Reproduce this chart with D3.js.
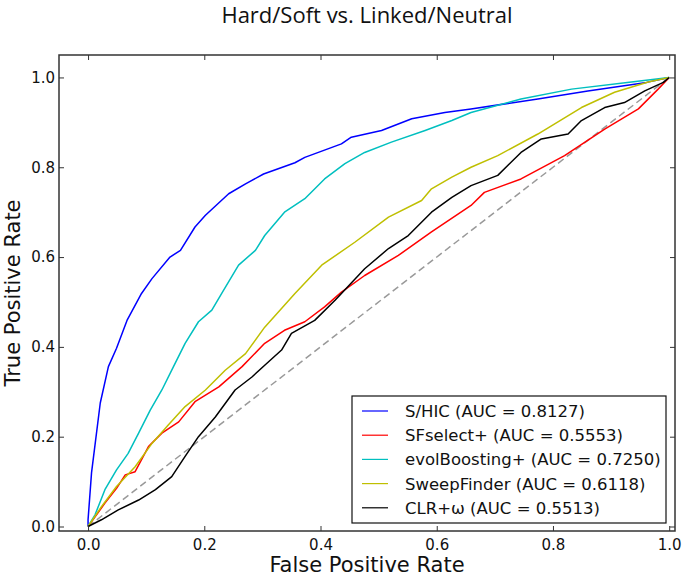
<!DOCTYPE html>
<html>
<head>
  <meta charset="utf-8">
  <title>Hard/Soft vs. Linked/Neutral</title>
  <script src="https://cdn.jsdelivr.net/npm/d3@7"></script>
  <style>
    body { margin: 0; background: #fff; }
    text { font-family: "DejaVu Sans", sans-serif; fill: #111; }
    .title { font-family: "Open Sans", sans-serif; }
  </style>
</head>
<body>
<script>

// ROC curves, [false positive rate, true positive rate]
var shic = [[0,0],[0,0.015],[0.006,0.12],[0.021,0.275],[0.035,0.356],[0.049,0.397],[0.067,0.459],
  [0.092,0.519],[0.110,0.552],[0.141,0.600],[0.159,0.615],[0.184,0.667],[0.202,0.693],[0.242,0.741],
  [0.271,0.763],[0.302,0.785],[0.356,0.810],[0.373,0.822],[0.436,0.852],[0.453,0.867],[0.505,0.882],
  [0.557,0.908],[0.614,0.922],[0.659,0.930],[0.774,0.952],[0.860,0.970],[0.961,0.989],[1,1]];

var sfselect = [[0,0],[0.029,0.052],[0.049,0.085],[0.064,0.115],[0.081,0.122],[0.104,0.178],
  [0.127,0.208],[0.156,0.233],[0.184,0.278],[0.225,0.311],[0.265,0.356],[0.304,0.408],[0.338,0.437],
  [0.373,0.456],[0.407,0.489],[0.436,0.522],[0.476,0.559],[0.534,0.604],[0.591,0.656],[0.659,0.715],
  [0.682,0.744],[0.745,0.774],[0.820,0.826],[0.889,0.885],[0.947,0.930],[0.981,0.974],[1,1]];

var evolBoosting = [[0,0],[0.012,0.026],[0.029,0.082],[0.049,0.126],[0.069,0.163],[0.087,0.208],
  [0.107,0.259],[0.127,0.304],[0.147,0.356],[0.167,0.408],[0.190,0.456],[0.213,0.482],[0.230,0.519],
  [0.259,0.582],[0.288,0.615],[0.304,0.648],[0.338,0.700],[0.373,0.730],[0.407,0.774],[0.442,0.808],
  [0.476,0.833],[0.522,0.856],[0.580,0.882],[0.626,0.904],[0.659,0.922],[0.745,0.952],[0.832,0.974],
  [0.935,0.990],[1,1]];

var sweepFinder = [[0,0],[0.023,0.044],[0.049,0.089],[0.081,0.133],[0.110,0.185],[0.138,0.226],
  [0.167,0.267],[0.202,0.304],[0.236,0.348],[0.271,0.385],[0.304,0.444],[0.356,0.519],[0.402,0.582],
  [0.459,0.633],[0.517,0.689],[0.574,0.726],[0.591,0.752],[0.626,0.778],[0.659,0.800],[0.705,0.826],
  [0.774,0.874],[0.849,0.933],[0.906,0.967],[0.964,0.990],[1,1]];

var clr = [[0,0],[0.023,0.015],[0.052,0.037],[0.087,0.059],[0.116,0.082],[0.144,0.111],[0.167,0.156],
  [0.190,0.200],[0.219,0.244],[0.253,0.304],[0.282,0.333],[0.304,0.359],[0.333,0.393],[0.350,0.430],
  [0.390,0.459],[0.425,0.504],[0.436,0.519],[0.476,0.574],[0.517,0.619],[0.551,0.648],[0.591,0.700],
  [0.626,0.733],[0.659,0.759],[0.705,0.782],[0.745,0.833],[0.780,0.863],[0.826,0.874],[0.849,0.904],
  [0.889,0.933],[0.923,0.944],[0.958,0.970],[0.990,0.989],[1,1]];

var seriesNames = ["S/HIC (AUC = 0.8127)", "SFselect+ (AUC = 0.5553)", "evolBoosting+ (AUC = 0.7250)",
  "SweepFinder (AUC = 0.6118)", "CLR+\u03c9 (AUC = 0.5513)"];
var seriesColors = ["#0000ff", "#ff0000", "#00bfbf", "#bfbf00", "#000000"];
var seriesData = [shic, sfselect, evolBoosting, sweepFinder, clr];

var tickValues = [0, 0.2, 0.4, 0.6, 0.8, 1.0];

var width = 684, height = 578;
// plot box (note: "top" is taken by window.top, so prefix these)
var pLeft = 59, pRight = 675, pTop = 55, pBottom = 531;

var svg = d3.select("body").append("svg")
    .attr("width", width)
    .attr("height", height);

var x = d3.scaleLinear().domain([-0.05, 1.01]).range([pLeft, pRight]);
var y = d3.scaleLinear().domain([-0.01, 1.05]).range([pBottom, pTop]);

var line = d3.line()
    .x(function(d) { return x(d[0]); })
    .y(function(d) { return y(d[1]); });

// chance line
svg.append("path")
    .datum([[0, 0], [1, 1]])
    .attr("d", line)
    .attr("fill", "none")
    .attr("stroke", "#999")
    .attr("stroke-width", 1.5)
    .attr("stroke-dasharray", "7,4");

// the five classifiers
svg.selectAll("path.roc")
    .data(seriesData)
  .enter().append("path")
    .attr("class", "roc")
    .attr("d", line)
    .attr("fill", "none")
    .attr("stroke", function(d, i) { return seriesColors[i]; })
    .attr("stroke-width", 1.5)
    .attr("stroke-linejoin", "round");

// axes, matplotlib-ish: ticks inside on every side
var fmt = d3.format(".1f");

function styleAxis(g) {
  g.select(".domain").remove();
  g.selectAll(".tick line").attr("stroke", "#333");
  g.selectAll(".tick text").style("font-family", "DejaVu Sans").style("font-size", "15px").attr("fill", "#111");
}

svg.append("g")
    .attr("transform", "translate(0," + pBottom + ")")
    .call(d3.axisBottom(x).tickValues(tickValues).tickFormat(fmt).tickSizeInner(-5).tickSizeOuter(0).tickPadding(8))
    .call(styleAxis);

svg.append("g")
    .attr("transform", "translate(0," + pTop + ")")
    .call(d3.axisTop(x).tickValues(tickValues).tickFormat("").tickSizeInner(-5).tickSizeOuter(0))
    .call(styleAxis);

svg.append("g")
    .attr("transform", "translate(" + pLeft + ",0)")
    .call(d3.axisLeft(y).tickValues(tickValues).tickFormat(fmt).tickSizeInner(-5).tickSizeOuter(0).tickPadding(4))
    .call(styleAxis);

svg.append("g")
    .attr("transform", "translate(" + pRight + ",0)")
    .call(d3.axisRight(y).tickValues(tickValues).tickFormat("").tickSizeInner(-5).tickSizeOuter(0))
    .call(styleAxis);

// frame
svg.append("rect")
    .attr("x", pLeft).attr("y", pTop)
    .attr("width", pRight - pLeft).attr("height", pBottom - pTop)
    .attr("fill", "none")
    .attr("stroke", "#333")
    .attr("stroke-width", 1.5);

// labels
svg.append("text")
    .attr("class", "title")
    .attr("x", (pLeft + pRight) / 2)
    .attr("y", 23)
    .attr("text-anchor", "middle")
    .style("font-size", "22px")
    .text("Hard/Soft vs. Linked/Neutral");

svg.append("text")
    .attr("x", (pLeft + pRight) / 2)
    .attr("y", 572)
    .attr("text-anchor", "middle")
    .style("font-size", "21px")
    .text("False Positive Rate");

svg.append("text")
    .attr("transform", "translate(20," + ((pTop + pBottom) / 2) + ") rotate(-90)")
    .attr("text-anchor", "middle")
    .style("font-size", "21px")
    .text("True Positive Rate");

// legend
var legend = svg.append("g");
legend.append("rect")
    .attr("x", 352).attr("y", 396)
    .attr("width", 314).attr("height", 127)
    .attr("fill", "#fff")
    .attr("stroke", "#111")
    .attr("stroke-width", 1.2);

var rows = legend.selectAll("g.row")
    .data(seriesNames)
  .enter().append("g")
    .attr("class", "row")
    .attr("transform", function(d, i) { return "translate(0," + (411 + i * 24.2) + ")"; });

rows.append("line")
    .attr("x1", 362).attr("x2", 388)
    .attr("stroke", function(d, i) { return seriesColors[i]; })
    .attr("stroke-width", 1.2);

rows.append("text")
    .attr("x", 405)
    .attr("dy", "0.36em")
    .style("font-size", "16.5px")
    .text(function(d) { return d; });

</script>
</body>
</html>
